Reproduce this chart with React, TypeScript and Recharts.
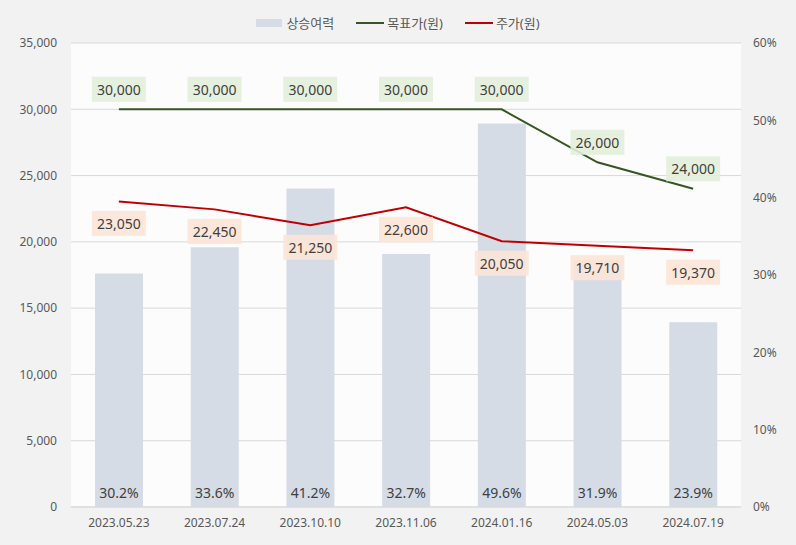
import { Bar, ComposedChart, Line, XAxis, YAxis, CartesianGrid, LabelList } from "recharts"

const dates = ["2023.05.23", "2023.07.24", "2023.10.10", "2023.11.06", "2024.01.16", "2024.05.03", "2024.07.19"]
const upside = [30.2, 33.6, 41.2, 32.7, 49.6, 31.9, 23.9]
const targetPrice = [30000, 30000, 30000, 30000, 30000, 26000, 24000]
const stockPrice = [23050, 22450, 21250, 22600, 20050, 19710, 19370]
const leftTicks = [0, 5000, 10000, 15000, 20000, 25000, 30000, 35000]
const rightTicks = [0, 10, 20, 30, 40, 50, 60]

const data = dates.map((d, i) => ({
    date: d,
    upside: upside[i],
    target: targetPrice[i],
    price: stockPrice[i],
}))

const FONT = "'Noto Sans', 'Noto Sans CJK KR', sans-serif"
const fmt = (v: number) => v.toLocaleString("en-US")

// 값 라벨 (배경 박스 포함)
const boxLabel = (bg: string, dy: number) => (props: any) => {
    const { x, y, value } = props
    const w = 54
    const h = 25
    const cy = y + dy
    return (
        <g>
            <rect x={x - w / 2} y={cy - h / 2} width={w} height={h} fill={bg} fillOpacity={0.9} />
            <text x={x} y={cy} textAnchor="middle" dominantBaseline="central" fontSize={14} fill="#404040" fontFamily={FONT}>
                {fmt(value)}
            </text>
        </g>
    )
}

const barLabel = (props: any) => {
    const { x, y, width, height, value } = props
    return (
        <text x={x + width / 2} y={y + height - 15} textAnchor="middle" dominantBaseline="central" fontSize={14} fill="#404040" fontFamily={FONT}>
            {value.toFixed(1)}%
        </text>
    )
}

function LegendBox() {
    const item = { display: "flex", alignItems: "center", marginRight: 22 } as const
    return (
        <div style={{ position: "absolute", top: 13, left: 0, width: 796, display: "flex", justifyContent: "center", fontFamily: FONT, fontSize: 13, color: "#595959" }}>
            <div style={item}>
                <span style={{ display: "inline-block", width: 26, height: 8, background: "#d6dce5", marginRight: 4 }} />
                상승여력
            </div>
            <div style={item}>
                <span style={{ display: "inline-block", width: 28, height: 2, background: "#375623", marginRight: 3 }} />
                목표가(원)
            </div>
            <div style={{ ...item, marginRight: 0 }}>
                <span style={{ display: "inline-block", width: 28, height: 2, background: "#c00000", marginRight: 3 }} />
                주가(원)
            </div>
        </div>
    )
}

export default function App() {
    return (
        <div style={{ position: "absolute", left: 0, top: 0, width: 796, height: 545, background: "#f2f2f2" }}>
            <ComposedChart width={796} height={545} data={data} margin={{ top: 43, right: 0, left: 0, bottom: 0 }} barCategoryGap="25%">
                <CartesianGrid yAxisId="left" vertical={false} stroke="#d9d9d9" fill="#fcfcfc" />
                <XAxis
                    dataKey="date"
                    height={38}
                    axisLine={{ stroke: "#d9d9d9" }}
                    tickLine={false}
                    tickSize={0}
                    tickMargin={11}
                    tick={{ fontSize: 12, fill: "#595959", fontFamily: FONT }}
                />
                <YAxis
                    yAxisId="left"
                    domain={[0, 35000]}
                    ticks={leftTicks}
                    width={71}
                    axisLine={false}
                    tickLine={false}
                    tickSize={0}
                    tickMargin={14}
                    tickFormatter={fmt}
                    tick={{ fontSize: 12, fill: "#595959", fontFamily: FONT }}
                />
                <YAxis
                    yAxisId="right"
                    orientation="right"
                    domain={[0, 60]}
                    ticks={rightTicks}
                    width={55}
                    axisLine={false}
                    tickLine={false}
                    tickSize={0}
                    tickMargin={12}
                    tickFormatter={(v: number) => `${v}%`}
                    tick={{ fontSize: 12, fill: "#595959", fontFamily: FONT, textAnchor: "start" }}
                />
                <Bar yAxisId="right" dataKey="upside" fill="#d6dce5" barSize={48} isAnimationActive={false}>
                    <LabelList dataKey="upside" content={barLabel} />
                </Bar>
                <Line yAxisId="left" dataKey="target" stroke="#375623" strokeWidth={2} dot={false} isAnimationActive={false}>
                    <LabelList dataKey="target" content={boxLabel("#e2efda", -20)} />
                </Line>
                <Line yAxisId="left" dataKey="price" stroke="#c00000" strokeWidth={2} dot={false} isAnimationActive={false}>
                    <LabelList dataKey="price" content={boxLabel("#fce4d6", 22)} />
                </Line>
            </ComposedChart>
            <LegendBox />
        </div>
    )
}
